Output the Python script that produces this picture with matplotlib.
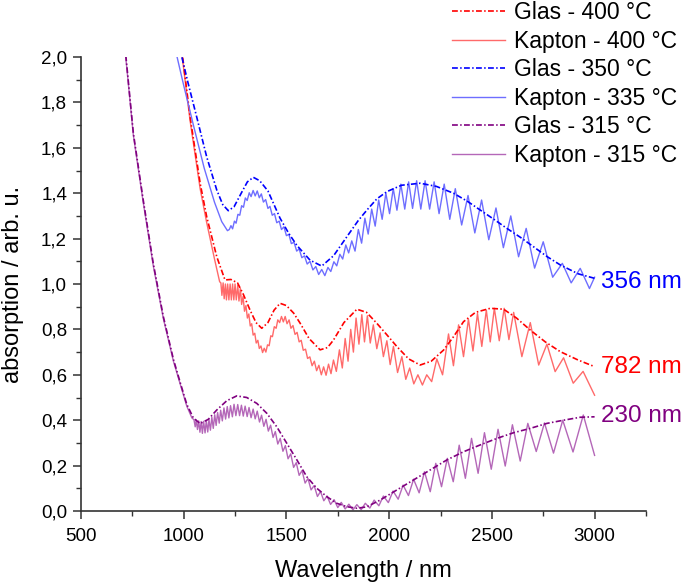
import matplotlib.pyplot as plt
from matplotlib.ticker import MultipleLocator, FuncFormatter
from matplotlib.lines import Line2D
import numpy as np

# Glas - 400 °C (dash-dot)
glas400_nm = [988, 1031, 1080, 1112, 1161, 1201, 1230, 1262, 1290, 1323, 1352, 1380, 1410, 1440, 1469,
              1500, 1535, 1567, 1610, 1664, 1700, 1729, 1780, 1843, 1890, 1940, 1990, 2038, 2095, 2151,
              2205, 2265, 2315, 2362, 2420, 2492, 2557, 2620, 2687, 2760, 2833, 2920, 3000]
glas400_abs = [2.05, 1.737, 1.444, 1.296, 1.12, 1.018, 1.02, 1.005, 0.955, 0.885, 0.83, 0.805, 0.83, 0.885, 0.915,
               0.905, 0.872, 0.827, 0.76, 0.71, 0.72, 0.753, 0.83, 0.889, 0.875, 0.827, 0.775, 0.724, 0.67, 0.643,
               0.66, 0.709, 0.77, 0.834, 0.875, 0.893, 0.889, 0.85, 0.797, 0.745, 0.702, 0.665, 0.636]

# Kapton - 400 °C (solid, fringes)
kapton400_edge_nm = [986, 1031, 1080, 1112, 1150, 1175, 3000]
kapton400_edge_abs = [2.05, 1.72, 1.42, 1.27, 1.11, 1.01, 0.51]
kapton400_peak_nm = [1181, 1192, 1203, 1214, 1226, 1238, 1250, 1263, 1276, 1289, 1303, 1317, 1331, 1346, 1361,
                     1376, 1392, 1408, 1424, 1441, 1458, 1476, 1494, 1513, 1532, 1552, 1572, 1593, 1614, 1636,
                     1658, 1681, 1705, 1729, 1758, 1786, 1813, 1839, 1867, 1894, 1923, 1956, 1989, 2021, 2062,
                     2100, 2140, 2183, 2232, 2289, 2338, 2386, 2430, 2473, 2512, 2560, 2606, 2687, 2768, 2849, 2944]
kapton400_peak_abs = [1.005, 1.005, 1.0, 1.0, 1.0, 1.0, 1.0, 0.995, 0.98, 0.945, 0.905, 0.868, 0.825, 0.783, 0.752,
                      0.727, 0.717, 0.732, 0.772, 0.812, 0.842, 0.857, 0.857, 0.842, 0.817, 0.787, 0.752, 0.713, 0.679, 0.66,
                      0.642, 0.635, 0.647, 0.665, 0.71, 0.76, 0.80, 0.85, 0.865, 0.86, 0.82, 0.785, 0.75, 0.725, 0.68,
                      0.63, 0.6, 0.6, 0.67, 0.78, 0.82, 0.845, 0.87, 0.885, 0.893, 0.893, 0.875, 0.83, 0.735, 0.675, 0.615]
kapton400_trough_nm = [1186, 1197, 1208, 1220, 1232, 1244, 1256, 1269, 1282, 1296, 1310, 1324, 1338, 1353, 1368,
                       1384, 1400, 1416, 1432, 1450, 1467, 1485, 1503, 1522, 1542, 1562, 1582, 1603, 1625, 1647,
                       1670, 1693, 1717, 1743, 1772, 1800, 1826, 1853, 1880, 1908, 1940, 1972, 2005, 2041, 2081,
                       2120, 2162, 2207, 2260, 2313, 2362, 2408, 2451, 2492, 2536, 2583, 2646, 2728, 2808, 2896]
kapton400_trough_abs = [0.95, 0.935, 0.93, 0.93, 0.93, 0.93, 0.93, 0.925, 0.91, 0.88, 0.85, 0.815, 0.775, 0.74, 0.716,
                        0.698, 0.70, 0.728, 0.768, 0.805, 0.83, 0.833, 0.825, 0.805, 0.778, 0.745, 0.708, 0.672, 0.64, 0.618,
                        0.60, 0.598, 0.605, 0.615, 0.63, 0.66, 0.70, 0.735, 0.745, 0.74, 0.715, 0.68, 0.645, 0.61, 0.58,
                        0.56, 0.555, 0.57, 0.60, 0.64, 0.68, 0.705, 0.725, 0.745, 0.75, 0.755, 0.68, 0.643, 0.614, 0.563]

# Glas - 350 °C (dash-dot)
glas350_nm = [978, 1020, 1063, 1112, 1161, 1190, 1217, 1245, 1280, 1310, 1339, 1370, 1410, 1469, 1510,
              1551, 1615, 1672, 1730, 1794, 1850, 1892, 1940, 1989, 2060, 2151, 2230, 2313, 2380, 2443,
              2510, 2573, 2640, 2703, 2770, 2833, 2920, 3000]
glas350_abs = [2.05, 1.89, 1.737, 1.56, 1.414, 1.35, 1.323, 1.34, 1.40, 1.45, 1.47, 1.455, 1.41, 1.29, 1.225,
               1.17, 1.105, 1.079, 1.125, 1.208, 1.28, 1.326, 1.375, 1.407, 1.435, 1.444, 1.43, 1.40, 1.365, 1.326,
               1.285, 1.245, 1.205, 1.164, 1.12, 1.084, 1.045, 1.025]

# Kapton - 335 °C (solid, fringes)
kapton335_edge_nm = [955, 1000, 1050, 1100, 1150, 1185, 1213, 1222, 3000]
kapton335_edge_abs = [2.05, 1.875, 1.69, 1.51, 1.36, 1.275, 1.235, 1.24, 1.03]
kapton335_peak_nm = [1230, 1247, 1264, 1282, 1300, 1319, 1338, 1358, 1378, 1399, 1420, 1442, 1465, 1488, 1512,
                     1537, 1562, 1588, 1615, 1643, 1672, 1702, 1731, 1760, 1789, 1818, 1850, 1882, 1915, 1949,
                     1984, 2020, 2057, 2095, 2134, 2175, 2219, 2268, 2322, 2384, 2450, 2520, 2592, 2667, 2750,
                     2843, 2930]
kapton335_peak_abs = [1.257, 1.277, 1.307, 1.345, 1.379, 1.402, 1.412, 1.41, 1.397, 1.372, 1.342, 1.31, 1.277, 1.252, 1.219,
                      1.184, 1.155, 1.124, 1.10, 1.077, 1.064, 1.073, 1.098, 1.131, 1.172, 1.19, 1.24, 1.29, 1.33, 1.37,
                      1.40, 1.42, 1.44, 1.45, 1.455, 1.455, 1.45, 1.44, 1.42, 1.39, 1.37, 1.335, 1.30, 1.245, 1.186,
                      1.091, 1.069]
kapton335_trough_nm = [1238, 1255, 1273, 1291, 1309, 1328, 1348, 1368, 1388, 1410, 1431, 1453, 1476, 1500, 1524,
                       1550, 1575, 1601, 1629, 1657, 1687, 1716, 1745, 1774, 1803, 1834, 1866, 1898, 1932, 1966,
                       2002, 2038, 2076, 2114, 2154, 2197, 2243, 2295, 2353, 2417, 2485, 2556, 2630, 2708, 2796,
                       2886, 2975]
kapton335_trough_abs = [1.243, 1.268, 1.303, 1.338, 1.368, 1.385, 1.388, 1.38, 1.361, 1.333, 1.303, 1.27, 1.24, 1.213, 1.178,
                        1.145, 1.116, 1.088, 1.062, 1.042, 1.037, 1.055, 1.08, 1.11, 1.137, 1.145, 1.18, 1.22, 1.255, 1.285,
                        1.31, 1.325, 1.33, 1.333, 1.33, 1.33, 1.31, 1.285, 1.26, 1.225, 1.195, 1.16, 1.12, 1.07, 1.03,
                        1.005, 0.98]

# Glas - 315 °C (dash-dot)
glas315_nm = [712, 719, 755, 803, 852, 901, 950, 985, 1015, 1047, 1080, 1120, 1161, 1210, 1258,
              1307, 1356, 1405, 1453, 1502, 1551, 1599, 1648, 1697, 1745, 1794, 1843, 1890, 1956, 2038,
              2119, 2200, 2281, 2362, 2443, 2525, 2606, 2687, 2768, 2849, 2930, 3000]
glas315_abs = [2.06, 2.0, 1.664, 1.37, 1.09, 0.856, 0.668, 0.56, 0.47, 0.41, 0.385, 0.404, 0.445, 0.486, 0.507,
               0.50, 0.474, 0.43, 0.371, 0.298, 0.225, 0.151, 0.10, 0.063, 0.034, 0.019, 0.012, 0.018, 0.048, 0.093,
               0.137, 0.181, 0.225, 0.261, 0.291, 0.32, 0.345, 0.364, 0.386, 0.40, 0.413, 0.415]

# Kapton - 315 °C (solid, fringes)
kapton315_edge_nm = [712, 719, 755, 803, 852, 901, 950, 985, 1015, 1040, 3000]
kapton315_edge_abs = [2.05, 1.99, 1.655, 1.36, 1.08, 0.848, 0.66, 0.553, 0.462, 0.41, 0.245]
kapton315_peak_nm = [1050, 1061, 1073, 1085, 1097, 1110, 1123, 1137, 1151, 1165, 1180, 1196, 1212, 1228, 1245,
                     1263, 1281, 1299, 1318, 1338, 1358, 1379, 1401, 1423, 1446, 1470, 1495, 1521, 1548, 1576,
                     1605, 1635, 1666, 1698, 1732, 1767, 1804, 1843, 1884, 1927, 1972, 2019, 2068, 2119, 2172,
                     2227, 2283, 2341, 2401, 2464, 2530, 2600, 2675, 2756, 2845, 2945]
kapton315_peak_abs = [0.402, 0.401, 0.397, 0.394, 0.395, 0.398, 0.403, 0.413, 0.424, 0.434, 0.444, 0.454, 0.46, 0.464, 0.47,
                      0.469, 0.466, 0.462, 0.456, 0.449, 0.44, 0.422, 0.404, 0.378, 0.35, 0.32, 0.288, 0.252, 0.213, 0.178,
                      0.143, 0.112, 0.086, 0.066, 0.05, 0.038, 0.03, 0.028, 0.034, 0.048, 0.066, 0.088, 0.114, 0.14, 0.173,
                      0.21, 0.232, 0.29, 0.32, 0.345, 0.36, 0.38, 0.386, 0.388, 0.40, 0.423]
kapton315_trough_nm = [1056, 1067, 1079, 1091, 1104, 1117, 1130, 1144, 1158, 1173, 1188, 1204, 1220, 1237, 1254,
                       1272, 1290, 1309, 1328, 1348, 1369, 1390, 1412, 1435, 1458, 1483, 1508, 1535, 1562, 1591,
                       1620, 1651, 1682, 1715, 1750, 1786, 1824, 1864, 1906, 1950, 1996, 2044, 2094, 2146, 2200,
                       2255, 2312, 2371, 2433, 2497, 2565, 2638, 2716, 2800, 2895]
kapton315_trough_abs = [0.371, 0.359, 0.347, 0.342, 0.344, 0.348, 0.356, 0.364, 0.377, 0.387, 0.397, 0.405, 0.41, 0.415, 0.42,
                        0.42, 0.418, 0.416, 0.411, 0.406, 0.392, 0.373, 0.352, 0.324, 0.295, 0.263, 0.23, 0.192, 0.157, 0.123,
                        0.093, 0.064, 0.045, 0.029, 0.015, 0.009, 0.005, 0.006, 0.013, 0.023, 0.037, 0.052, 0.068, 0.08, 0.085,
                        0.107, 0.129, 0.144, 0.166, 0.184, 0.198, 0.22, 0.262, 0.255, 0.26]

labels = ['Glas - 400 °C', 'Kapton - 400 °C', 'Glas - 350 °C', 'Kapton - 335 °C', 'Glas - 315 °C', 'Kapton - 315 °C']
thickness_labels = ['356 nm', '782 nm', '230 nm']
thickness_y = [1.01, 0.634, 0.418]


def merge(*parts):
    # parts are (nm, abs) pairs; put every point in wavelength order
    nm = np.concatenate([np.asarray(p[0], float) for p in parts])
    ab = np.concatenate([np.asarray(p[1], float) for p in parts])
    order = np.argsort(nm, kind='stable')
    return nm[order], ab[order]


k400 = merge((kapton400_edge_nm, kapton400_edge_abs), (kapton400_peak_nm, kapton400_peak_abs),
             (kapton400_trough_nm, kapton400_trough_abs))
k335 = merge((kapton335_edge_nm, kapton335_edge_abs), (kapton335_peak_nm, kapton335_peak_abs),
             (kapton335_trough_nm, kapton335_trough_abs))
k315 = merge((kapton315_edge_nm, kapton315_edge_abs), (kapton315_peak_nm, kapton315_peak_abs),
             (kapton315_trough_nm, kapton315_trough_abs))

plt.rcParams['font.family'] = ['Liberation Sans', 'DejaVu Sans']

red, red_l = '#ff0000', '#ff6a6a'
blue, blue_l = '#0000ff', '#6e6eff'
purple, purple_l = '#800080', '#b467b8'
dashdot = (0, (3.5, 1.4, 0.9, 1.4))

fig = plt.figure(figsize=(6.85, 5.83), dpi=100)
ax = fig.add_axes([0.1182, 0.1235, 0.8248, 0.7787])

ax.plot(k400[0], k400[1], color=red_l, lw=1.0)
ax.plot(glas400_nm, glas400_abs, color=red, lw=1.2, linestyle=dashdot)
ax.plot(k335[0], k335[1], color=blue_l, lw=1.0)
ax.plot(glas350_nm, glas350_abs, color=blue, lw=1.2, linestyle=dashdot)
ax.plot(k315[0], k315[1], color=purple_l, lw=1.0)
ax.plot(glas315_nm, glas315_abs, color=purple, lw=1.2, linestyle=dashdot)

for txt, yv, c in zip(thickness_labels, thickness_y, [blue, red, purple]):
    ax.text(3033, yv, txt, color=c, fontsize=17.5, va='center', ha='left', clip_on=False)

ax.set_xlim(500, 3250)
ax.set_ylim(0, 2.0)
ax.xaxis.set_minor_locator(MultipleLocator(250))
ax.yaxis.set_major_locator(MultipleLocator(0.2))
ax.yaxis.set_minor_locator(MultipleLocator(0.1))
ax.set_xticks([500, 1000, 1500, 2000, 2500, 3000])
ax.yaxis.set_major_formatter(FuncFormatter(lambda v, p: f'{v:.1f}'.replace('.', ',')))

for s in ['top', 'right']:
    ax.spines[s].set_visible(False)
for s in ['left', 'bottom']:
    ax.spines[s].set_color('#333333')
    ax.spines[s].set_linewidth(1.2)
ax.tick_params(which='major', direction='out', length=6, width=1.1, color='#333333', labelsize=13.5)
ax.tick_params(which='minor', direction='out', length=3.5, width=1.0, color='#333333')
ax.tick_params(axis='x', which='major', pad=6)
ax.tick_params(axis='y', which='major', pad=4)

ax.set_xlabel('Wavelength / nm', fontsize=17, labelpad=11)
ax.set_ylabel('absorption / arb. u.', fontsize=17, labelpad=12)

handles = [Line2D([], [], color=red, lw=1.2, linestyle=dashdot),
           Line2D([], [], color=red_l, lw=1.0),
           Line2D([], [], color=blue, lw=1.2, linestyle=dashdot),
           Line2D([], [], color=blue_l, lw=1.0),
           Line2D([], [], color=purple, lw=1.2, linestyle=dashdot),
           Line2D([], [], color=purple_l, lw=1.0)]
fig.legend(handles, labels, loc='upper left', bbox_to_anchor=(452 / 685, 0.998), frameon=False, fontsize=16.5,
           handlelength=2.3, handletextpad=0.42, labelspacing=0.24, borderpad=0, borderaxespad=0)

fig.savefig('out.png', dpi=100)
